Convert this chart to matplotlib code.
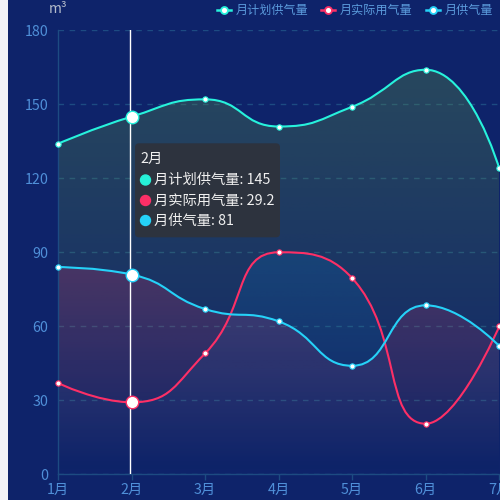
import numpy as np
import matplotlib.pyplot as plt
from matplotlib.path import Path
from matplotlib.patches import PathPatch, Rectangle, FancyBboxPatch, Circle
from matplotlib.lines import Line2D

plt.rcParams['font.family'] = ['Noto Sans CJK SC', 'DejaVu Sans']

# dados
months = ['1月', '2月', '3月', '4月', '5月', '6月', '7月']
plan = [134, 145, 152, 141, 149, 164, 124]
actual = [37, 29.2, 49, 90, 79.5, 20.5, 60]
supply = [84, 81, 67, 62, 44, 68.5, 52]
names = ['月计划供气量', '月实际用气量', '月供气量']
yticks = [0, 30, 60, 90, 120, 150, 180]
hover = 1  # 2月 em destaque

bg = '#0e236a'
axis_color = '#1d4b82'
label_color = '#4f8fd8'
line_colors = ['#27f2dc', '#fd2f66', '#25d2f8']
fill_rgb = [(88, 141, 72), (10, 120, 200), (255, 51, 102)]
fill_alpha = [0.35, 0.2, 0.2]

SX, SY = 73.55, 2.467  # px por unidade


def smooth_path(xs, ys, s=0.5):
    """Curva suave no estilo do echarts (calculada em pixels)."""
    px = [x * SX for x in xs]
    py = [y * SY for y in ys]
    n = len(px)
    verts = [(px[0], py[0])]
    codes = [Path.MOVETO]
    cx0, cy0 = px[0], py[0]
    for i in range(1, n):
        x, y = px[i], py[i]
        prx, pry = px[i - 1], py[i - 1]
        if i == n - 1:
            cx1, cy1 = x, y
            ncx0, ncy0 = x, y
        else:
            nx, ny = px[i + 1], py[i + 1]
            vx, vy = nx - prx, ny - pry
            lp = np.hypot(x - prx, y - pry)
            ln = np.hypot(nx - x, ny - y)
            r = ln / (ln + lp)
            ncx0 = x + vx * s * r
            ncy0 = y + vy * s * r
            ncx0 = min(ncx0, max(nx, x)); ncy0 = min(ncy0, max(ny, y))
            ncx0 = max(ncx0, min(nx, x)); ncy0 = max(ncy0, min(ny, y))
            vx, vy = ncx0 - x, ncy0 - y
            cx1 = x - vx * lp / ln
            cy1 = y - vy * lp / ln
            cx1 = min(cx1, max(prx, x)); cy1 = min(cy1, max(pry, y))
            cx1 = max(cx1, min(prx, x)); cy1 = max(cy1, min(pry, y))
            vx, vy = x - cx1, y - cy1
            ncx0 = x + vx * ln / lp
            ncy0 = y + vy * ln / lp
        verts += [(cx0, cy0), (cx1, cy1), (x, y)]
        codes += [Path.CURVE4] * 3
        cx0, cy0 = ncx0, ncy0
    verts = [(a / SX, b / SY) for a, b in verts]
    return verts, codes


fig = plt.figure(figsize=(5, 5), dpi=100, facecolor=bg)
fig.add_artist(Rectangle((0, 0), 8 / 500, 1, transform=fig.transFigure,
                         facecolor='#f2f3f8', edgecolor='none', zorder=-5))

ax = fig.add_axes([58 / 500, 25.7 / 500, 441.3 / 500, 444 / 500])
ax.set_facecolor('none')
ax.set_xlim(0, 6)
ax.set_ylim(0, 180)
x = np.arange(len(months))
series = [plan, actual, supply]

# áreas com degradê
for k, vals in enumerate(series):
    verts, codes = smooth_path(x, vals)
    verts = verts + [(x[-1], 0), (0, 0), (0, 0)]
    codes = codes + [Path.LINETO, Path.LINETO, Path.CLOSEPOLY]
    patch = PathPatch(Path(verts, codes), facecolor='none', edgecolor='none')
    ax.add_patch(patch)
    grad = np.zeros((256, 1, 4))
    grad[:, 0, :3] = np.array(fill_rgb[k]) / 255
    grad[:, 0, 3] = np.linspace(0, fill_alpha[k], 256)
    im = ax.imshow(grad, extent=[0, 6, 0, max(vals)], origin='lower',
                   aspect='auto', zorder=1 + k * 0.1)
    im.set_clip_path(patch)

# linha do ponteiro
ax.plot([hover - 0.025, hover - 0.025], [0, 180], color='white', lw=1, zorder=3.5)

# linhas suaves
for k, vals in enumerate(series):
    verts, codes = smooth_path(x, vals)
    ax.add_patch(PathPatch(Path(verts, codes), facecolor='none',
                           edgecolor=line_colors[k], lw=1.5, zorder=4 + k * 0.1))
    others = [i for i in x if i != hover]
    ax.plot(others, [vals[i] for i in others], 'o', ms=3.8, mfc='white',
            mec=line_colors[k], mew=0.8, zorder=5, clip_on=False)
    ax.plot([hover], [vals[hover]], 'o', ms=9, mfc='white',
            mec=line_colors[k], mew=1, zorder=6)

# eixos
ax.set_xticks(x)
ax.set_xticklabels(months)
ax.set_yticks(yticks)
ax.tick_params(axis='x', length=4, width=1, color=axis_color,
               labelcolor=label_color, labelsize=10.3, pad=2)
ax.tick_params(axis='y', length=0, labelcolor=label_color, labelsize=10.3, pad=7)
ax.yaxis.grid(True, color=axis_color, linestyle=(0, (4, 4)), linewidth=1)
ax.set_axisbelow(True)
for side in ['top', 'right']:
    ax.spines[side].set_visible(False)
for side in ['left', 'bottom']:
    ax.spines[side].set_color(axis_color)
    ax.spines[side].set_linewidth(1)

# camada em pixels para legenda e tooltip
ov = fig.add_axes([0, 0, 1, 1], zorder=10)
ov.set_xlim(0, 500)
ov.set_ylim(500, 0)
ov.axis('off')
ov.patch.set_alpha(0)

ov.text(58, 9, 'm³', color='#b4bccc', fontsize=10, ha='center', va='center')

leg_x = [217, 321, 426]
for k, name in enumerate(names):
    ov.add_line(Line2D([leg_x[k], leg_x[k] + 14], [10, 10], color=line_colors[k], lw=1.8))
    ov.plot([leg_x[k] + 7], [10], 'o', ms=5, mfc='white', mec=line_colors[k], mew=1.3)
    ov.text(leg_x[k] + 19, 10, name, color='#5b9bdc', fontsize=8.7, va='center', ha='left')

ov.add_patch(FancyBboxPatch((135, 143.3), 145, 94, boxstyle='round,pad=0,rounding_size=4',
                            facecolor='#2d333e', edgecolor='none'))
ov.text(140, 159, months[hover], color='#f0f0f0', fontsize=10.3, va='center', ha='left')
row_y = [180, 200.5, 220.5]
tip_vals = ['145', '29.2', '81']
dot_colors = ['#26f0d7', '#fd2f66', '#25d2f8']
for k, name in enumerate(names):
    ov.add_patch(Circle((145.5, row_y[k]), 5, color=dot_colors[k]))
    ov.text(154, row_y[k], f'{name}: {tip_vals[k]}', color='#f0f0f0', fontsize=10.3,
            va='center', ha='left')

fig.savefig('out.png', dpi=100, facecolor=bg)
